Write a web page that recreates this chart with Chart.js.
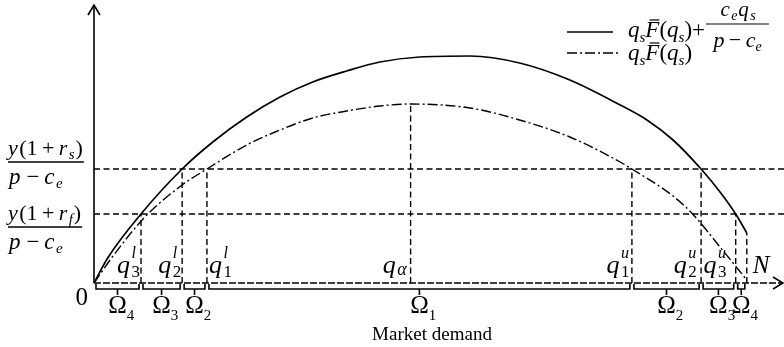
<!DOCTYPE html>
<html>
<head>
<meta charset="utf-8">
<script src="https://cdn.jsdelivr.net/npm/chart.js@4"></script>
<style>
  html, body { margin: 0; padding: 0; background: #fff; }
</style>
</head>
<body>
<canvas id="chart" width="784" height="347"></canvas>
<script>
// market demand axis runs 0..N with N = 100
const solidX = [0, 2.1, 7.2, 13.5, 18.2, 23.4, 28.5, 33.5, 38.7, 43.8, 49.9, 57.6, 65.2, 72.9, 80.6, 84.7, 88.7, 93.0, 95.9, 98.3, 100];
const solidY = [0, 12.5, 34.5, 57, 70.5, 83, 93, 100.5, 106, 110.5, 113, 113.5, 110, 101.5, 89, 81.5, 71.5, 57, 45.5, 34.5, 25];
const dashX = [0, 2.8, 7.8, 13.5, 17.3, 23.4, 28.5, 33.5, 38.7, 43.8, 48.4, 57.6, 65.2, 72.9, 80.6, 82.4, 88.7, 91.7, 95.9, 100];
const dashY = [0, 13, 33, 49, 57, 69, 76.5, 82.5, 86, 88.5, 89.5, 87.5, 81.5, 73, 60.5, 57, 43.5, 34.5, 18, 1.5];

// thresholds y(1+r_s)/(p-c_e) and y(1+r_f)/(p-c_e)
const levels = [57, 34.5];

// q3l, q2l, q1l, q_alpha, q1u, q2u, q3u, N
const markerX = [7.2, 13.5, 17.3, 48.5, 82.4, 93.0, 98.3, 100];
const markerTop = [34.5, 57, 57, 89.5, 57, 57, 34.5, 25];
const markerLabels = [['q', '3', 'l'], ['q', '2', 'l'], ['q', '1', 'l'], ['q', 'α', ''], ['q', '1', 'u'], ['q', '2', 'u'], ['q', '3', 'u'], ['N', '', '']];

// regions under the axis
const regionEdges = [0, 7.2, 13.5, 17.3, 82.4, 93.0, 98.3, 100];
const regionNames = ['4', '3', '2', '1', '2', '3', '4'];

const X_MAX = 105.7;
const Y_MAX = 139;

const SERIF = '"Liberation Serif", "Times New Roman", serif';
const R = (t, s, i, dy, bar) => ({ t, s, i: !!i, dy: dy || 0, bar: !!bar });

function setFont(ctx, r) {
  ctx.font = (r.i ? 'italic ' : '') + r.s + 'px ' + SERIF;
}
// air: extra advance after italic letters, like an equation editor leaves
function measure(ctx, r, air) {
  if (r.sup || r.sub) {
    return Math.max(r.sup ? measure(ctx, r.sup, air) : 0, r.sub ? measure(ctx, r.sub, air) : 0);
  }
  setFont(ctx, r);
  return ctx.measureText(r.t).width + (air && r.i ? (r.s >= 20 ? 1.5 : 0.8) : 0);
}
function drawRun(ctx, r, x, y, w) {
  if (r.sup || r.sub) {
    if (r.sup) drawRun(ctx, r.sup, x, y);
    if (r.sub) drawRun(ctx, r.sub, x, y);
    return;
  }
  setFont(ctx, r);
  ctx.fillText(r.t, x, y + r.dy);
  if (r.bar) {
    const by = y + r.dy - r.s * 0.74;
    ctx.beginPath();
    ctx.lineWidth = 1.2;
    ctx.moveTo(x + w * 0.3, by);
    ctx.lineTo(x + w, by);
    ctx.stroke();
  }
}
// draws a row of runs, returns the right edge
function drawMath(ctx, runs, x, y, align, air = true) {
  const ws = runs.map(r => measure(ctx, r, air));
  const total = ws.reduce((a, b) => a + b, 0);
  let cx = align === 'center' ? x - total / 2 : align === 'right' ? x - total : x;
  runs.forEach((r, i) => { drawRun(ctx, r, cx, y, ws[i]); cx += ws[i]; });
  return cx;
}
function hline(ctx, x1, x2, y, lw) {
  ctx.beginPath();
  ctx.lineWidth = lw;
  ctx.moveTo(x1, y);
  ctx.lineTo(x2, y);
  ctx.stroke();
}

const decor = {
  id: 'decor',
  afterDraw(chart) {
    const ctx = chart.ctx;
    const xs = chart.scales.x, ys = chart.scales.y;
    const x0 = xs.getPixelForValue(0), y0 = ys.getPixelForValue(0);
    const top = ys.getPixelForValue(Y_MAX);
    const right = xs.getPixelForValue(X_MAX) - 1;
    ctx.save();
    ctx.strokeStyle = '#000';
    ctx.fillStyle = '#000';
    ctx.textBaseline = 'alphabetic';
    ctx.lineCap = 'butt';

    // axes
    ctx.lineWidth = 1.6;
    ctx.beginPath();
    ctx.moveTo(x0, y0);
    ctx.lineTo(x0, top);
    ctx.stroke();
    ctx.beginPath();
    ctx.moveTo(x0 - 6, top + 10);
    ctx.lineTo(x0, top);
    ctx.lineTo(x0 + 6, top + 10);
    ctx.stroke();
    ctx.setLineDash([7, 2]);
    hline(ctx, x0, right, y0, 1.6);
    ctx.setLineDash([]);
    ctx.beginPath();
    ctx.lineWidth = 1.6;
    ctx.moveTo(right - 10, y0 - 6);
    ctx.lineTo(right, y0);
    ctx.lineTo(right - 10, y0 + 6);
    ctx.stroke();

    // origin
    drawMath(ctx, [R('0', 25)], x0 - 6, y0 + 22, 'right');

    // region brackets
    ctx.lineWidth = 1.6;
    for (let i = 0; i < regionNames.length; i++) {
      const a = xs.getPixelForValue(regionEdges[i]) + 2;
      const b = xs.getPixelForValue(regionEdges[i + 1]) - 2;
      const m = (a + b) / 2;
      ctx.beginPath();
      ctx.moveTo(a, y0 + 1);
      ctx.lineTo(a, y0 + 6);
      ctx.lineTo(b, y0 + 6);
      ctx.lineTo(b, y0 + 1);
      ctx.moveTo(m, y0 + 6);
      ctx.lineTo(m, y0 + 12);
      ctx.stroke();
      setFont(ctx, R('Ω', 25));
      const ow = ctx.measureText('Ω').width;
      drawMath(ctx, [R('Ω', 25), R(regionNames[i], 15, false, 7)], m - ow / 2, y0 + 30, 'left');
    }
    drawMath(ctx, [R('Market demand', 19)], 432, y0 + 57, 'center');

    // marker labels
    const labelDx = [-1, -1, 2, -3, -2, -4, -9, 6];
    markerLabels.forEach((lab, i) => {
      const px = xs.getPixelForValue(markerX[i]) + labelDx[i];
      let runs;
      if (lab[0] === 'N') {
        runs = [R('N', 25, true)];
      } else if (lab[1] === 'α') {
        runs = [R('q', 26, true), R('α', 18, true, 2)];
      } else {
        runs = [R('q', 26, true), { sup: R(lab[2], 16, true, -15), sub: R(lab[1], 17, false, 4) }];
      }
      drawMath(ctx, runs, px, y0 - 10, labelDx[i] > 0 ? 'left' : 'right');
    });

    // threshold labels on the vertical axis
    const fracs = [
      { sub: 's', num: 155, bar: 162, den: 184 },
      { sub: 'f', num: 220, bar: 227, den: 249 }
    ];
    fracs.forEach(f => {
      const end = drawMath(ctx, [R('y', 22, true), R('(', 22), R('1', 22), R('\u2009+\u2009', 22), R('r', 22, true), R(f.sub, 15, true, 4), R(')', 22)], 8, f.num, 'left');
      hline(ctx, 8, end + 1, f.bar, 1.3);
      drawMath(ctx, [R('p', 23, true), R('\u2009\u2212\u2009', 23), R('c', 23, true), R('e', 15, true, 4)], 9, f.den, 'left');
    });

    // legend
    hline(ctx, 567, 613, 32, 1.6);
    const e1 = drawMath(ctx, [R('q', 23, true), R('s', 15, true, 5), R('F', 23, true, 0, true), R('(', 23), R('q', 23, true), R('s', 15, true, 5), R(')', 23), R('+', 23)], 628, 37, 'left', false);
    const fx1 = e1 + 1, fx2 = e1 + 64;
    hline(ctx, fx1, fx2, 24, 1.2);
    drawMath(ctx, [R('c', 21, true), R('e', 14, true, 4), R('q', 21, true), R('s', 14, true, 4)], (fx1 + fx2) / 2 + 1, 16, 'center');
    drawMath(ctx, [R('p', 22, true), R('\u2009\u2212\u2009', 22), R('c', 22, true), R('e', 14, true, 4)], (fx1 + fx2) / 2, 47, 'center', false);

    ctx.setLineDash([10, 3, 2, 3]);
    hline(ctx, 567, 620, 53, 1.4);
    ctx.setLineDash([]);
    drawMath(ctx, [R('q', 23, true), R('s', 15, true, 5), R('F', 23, true, 0, true), R('(', 23), R('q', 23, true), R('s', 15, true, 5), R(')', 23)], 628, 60, 'left', false);

    ctx.restore();
  }
};

const pts = (xs, ys) => xs.map((x, i) => ({ x, y: ys[i] }));

const markerPts = [];
markerX.forEach((x, i) => {
  markerPts.push({ x, y: 0 }, { x, y: markerTop[i] }, { x, y: null });
});

const dashed = { borderColor: '#000', borderWidth: 1.4, borderDash: [6, 3.5], pointRadius: 0, clip: false, spanGaps: false };

new Chart(document.getElementById('chart'), {
  type: 'line',
  data: {
    datasets: [
      { data: pts(solidX, solidY), borderColor: '#000', borderWidth: 1.7, pointRadius: 0, cubicInterpolationMode: 'monotone', clip: false },
      { data: pts(dashX, dashY), borderColor: '#000', borderWidth: 1.4, borderDash: [10, 3, 2, 3], pointRadius: 0, cubicInterpolationMode: 'monotone', clip: false },
      Object.assign({ data: [{ x: 0, y: levels[0] }, { x: X_MAX, y: levels[0] }] }, dashed),
      Object.assign({ data: [{ x: 0, y: levels[1] }, { x: X_MAX, y: levels[1] }] }, dashed),
      Object.assign({ data: markerPts }, dashed)
    ]
  },
  options: {
    responsive: false,
    devicePixelRatio: 1,
    animation: false,
    layout: { padding: { left: 94, right: 0, top: 5, bottom: 64 } },
    scales: {
      x: { type: 'linear', min: 0, max: X_MAX, display: false },
      y: { type: 'linear', min: 0, max: Y_MAX, display: false }
    },
    plugins: { legend: { display: false }, tooltip: { enabled: false } }
  },
  plugins: [decor]
});
</script>
</body>
</html>
